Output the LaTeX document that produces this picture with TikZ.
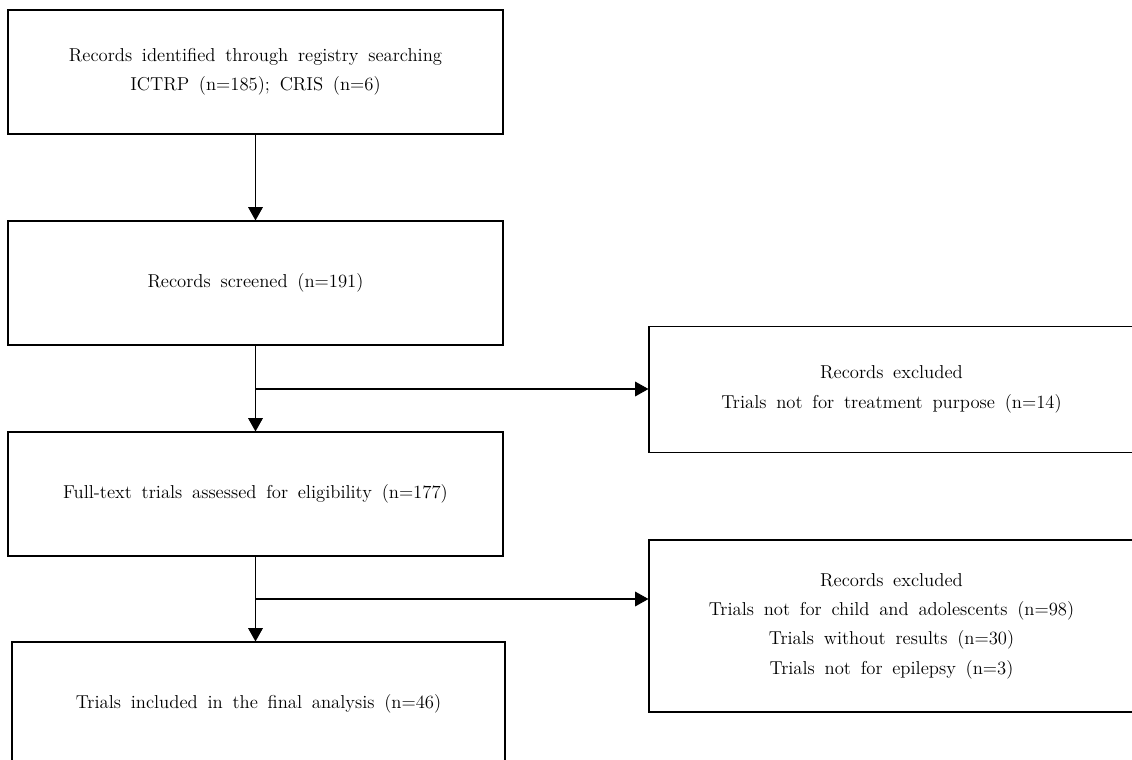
\documentclass[tikz,border=0pt]{standalone}
\usepackage{fontspec}
\setmainfont{Latin Modern Roman}[WordSpace=1.6]
\usepackage{tikz}
\usetikzlibrary{arrows.meta}

\begin{document}
\begin{tikzpicture}[x=0.75pt, y=-0.75pt,
    box/.style={draw, rectangle, align=center, line width=0.8pt, inner sep=0pt,
        font=\fontsize{14}{22}\selectfont},
    flow/.style={-{Triangle[width=11pt,length=10pt]}, line width=0.8pt}]
    \useasboundingbox (0,0) rectangle (1132,760);
    % Define nodes
    \node[box, minimum width=371.25pt, minimum height=93pt] (ident) at (255.5,72) {Records identified through registry searching\\ICTRP (n=185); CRIS (n=6)};
    \node[box, minimum width=371.25pt, minimum height=93pt] (screen) at (255.5,283) {Records screened (n=191)};
    \node[box, minimum width=371.25pt, minimum height=93pt] (full) at (255.5,494) {Full-text trials assessed for eligibility (n=177)};
    \node[box, minimum width=369.75pt, minimum height=93pt] (incl) at (258.5,704) {Trials included in the final analysis (n=46)};
    \node[box, minimum width=363.75pt, minimum height=95pt] (excA) at (891.5,389.5) {Records excluded\\Trials not for treatment purpose (n=14)};
    \node[box, minimum width=363.75pt, minimum height=129pt] (excB) at (891.5,626) {Records excluded\\Trials not for child and adolescents (n=98)\\Trials without results (n=30)\\Trials not for epilepsy (n=3)};
    \coordinate (brA) at (255.5,389);
    \coordinate (brB) at (255.5,599);

    % Define connections
    \draw[flow] (ident) -- (screen);
    \draw[flow] (screen) -- (full);
    \draw[flow] (brA) -- (brA -| excA.west);
    \draw[flow] (full.south) -- (full.south |- incl.north);
    \draw[flow] (brB) -- (brB -| excB.west);
\end{tikzpicture}
\end{document}
